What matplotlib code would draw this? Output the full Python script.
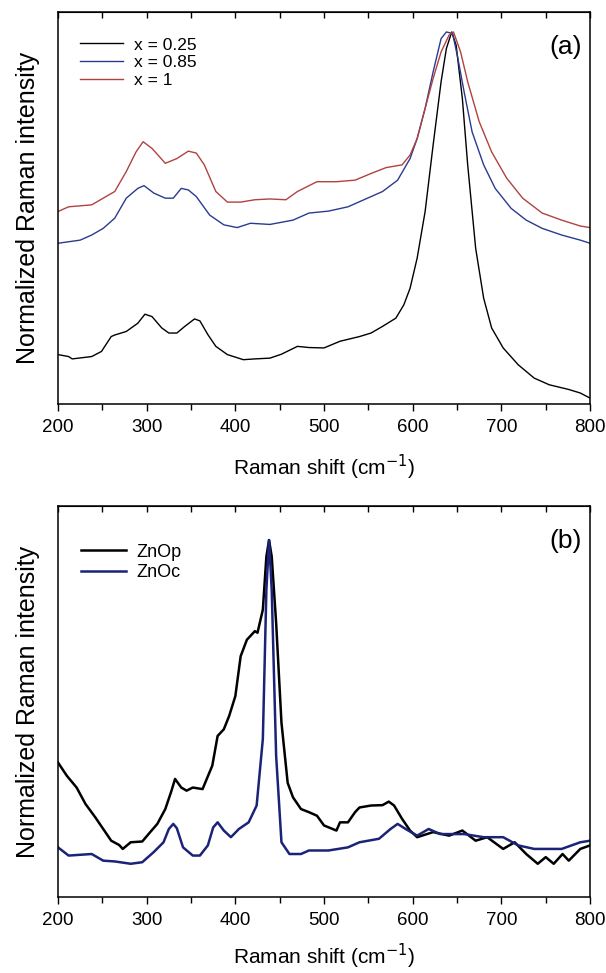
import numpy as np
import matplotlib
matplotlib.use("Agg")
import matplotlib.pyplot as plt
from matplotlib.ticker import MultipleLocator

plt.rcParams['font.family'] = ['Liberation Sans', 'DejaVu Sans']

# ---- panel (a): normalized Raman spectra ----
shift_a025 = [200, 212, 216, 238, 249, 260, 264, 277, 290, 298, 306, 317, 325, 334, 343, 354,
              360, 369, 378, 391, 409, 422, 439, 452, 470, 483, 500, 518, 540, 553, 566, 581,
              590, 597, 605, 614, 623, 632, 638, 644, 649, 656, 662, 671, 680, 689, 702, 719,
              737, 754, 776, 789, 800]
int_a025 = [0.126, 0.121, 0.115, 0.121, 0.134, 0.172, 0.176, 0.185, 0.206, 0.229, 0.223, 0.194,
            0.181, 0.181, 0.198, 0.217, 0.212, 0.177, 0.147, 0.126, 0.113, 0.115, 0.117, 0.127,
            0.147, 0.144, 0.143, 0.160, 0.172, 0.181, 0.198, 0.219, 0.253, 0.295, 0.372, 0.491,
            0.660, 0.822, 0.907, 0.949, 0.915, 0.779, 0.610, 0.397, 0.270, 0.194, 0.143, 0.100,
            0.066, 0.049, 0.037, 0.028, 0.015]

shift_a085 = [200, 225, 238, 251, 264, 277, 290, 297, 308, 321, 330, 339, 347, 356, 371, 387,
              402, 417, 439, 465, 483, 505, 527, 549, 566, 583, 597, 605, 614, 623, 632, 638,
              645, 651, 658, 667, 680, 693, 711, 728, 746, 768, 789, 800]
int_a085 = [0.410, 0.418, 0.431, 0.448, 0.474, 0.525, 0.550, 0.557, 0.538, 0.525, 0.525, 0.550,
            0.546, 0.529, 0.482, 0.457, 0.450, 0.461, 0.458, 0.469, 0.487, 0.492, 0.503, 0.525,
            0.542, 0.571, 0.626, 0.677, 0.754, 0.847, 0.932, 0.949, 0.945, 0.881, 0.796, 0.694,
            0.610, 0.550, 0.499, 0.469, 0.448, 0.431, 0.418, 0.410]

shift_a1 = [200, 212, 238, 251, 264, 277, 288, 296, 306, 321, 334, 347, 356, 365, 378, 391,
            406, 422, 439, 457, 470, 492, 514, 535, 553, 570, 588, 597, 605, 614, 623, 632,
            641, 646, 654, 662, 675, 689, 706, 724, 746, 768, 789, 800]
int_a1 = [0.491, 0.503, 0.508, 0.525, 0.542, 0.593, 0.643, 0.669, 0.652, 0.614, 0.626, 0.645,
          0.640, 0.610, 0.542, 0.515, 0.515, 0.521, 0.523, 0.521, 0.542, 0.567, 0.567, 0.571,
          0.588, 0.603, 0.610, 0.635, 0.677, 0.754, 0.830, 0.898, 0.941, 0.949, 0.898, 0.822,
          0.720, 0.643, 0.576, 0.525, 0.487, 0.469, 0.454, 0.450]

labels_a = ['x = 0.25', 'x = 0.85', 'x = 1']

# ---- panel (b) ----
shift_znop = [200, 210, 221, 231, 242, 251, 260, 269, 273, 282, 295, 304, 312, 321, 328, 332,
              339, 345, 352, 363, 374, 380, 387, 393, 400, 406, 413, 422, 425, 431, 435, 438,
              441, 446, 452, 459, 465, 474, 483, 492, 500, 514, 518, 527, 535, 540, 553, 566,
              573, 579, 588, 597, 605, 623, 641, 656, 671, 684, 702, 715, 728, 741, 750, 759,
              769, 776, 789, 800]
int_znop = [0.344, 0.310, 0.280, 0.238, 0.204, 0.174, 0.144, 0.133, 0.123, 0.140, 0.142, 0.166,
            0.187, 0.225, 0.272, 0.302, 0.280, 0.272, 0.280, 0.276, 0.336, 0.412, 0.429, 0.463,
            0.514, 0.616, 0.658, 0.680, 0.676, 0.735, 0.871, 0.913, 0.871, 0.701, 0.446, 0.292,
            0.255, 0.225, 0.217, 0.208, 0.183, 0.170, 0.191, 0.191, 0.217, 0.229, 0.234, 0.235,
            0.244, 0.234, 0.200, 0.170, 0.153, 0.166, 0.157, 0.170, 0.144, 0.153, 0.123, 0.140,
            0.110, 0.085, 0.102, 0.085, 0.110, 0.093, 0.123, 0.132]

shift_znoc = [200, 212, 238, 251, 264, 282, 295, 308, 319, 325, 330, 334, 341, 352, 360, 369,
              375, 380, 387, 395, 404, 415, 424, 431, 435, 438, 441, 446, 452, 461, 474, 483,
              505, 527, 540, 562, 575, 583, 592, 605, 618, 631, 658, 680, 702, 719, 737, 768,
              789, 800]
int_znoc = [0.127, 0.106, 0.110, 0.093, 0.091, 0.085, 0.089, 0.115, 0.140, 0.174, 0.187, 0.176,
            0.127, 0.106, 0.106, 0.132, 0.178, 0.191, 0.170, 0.153, 0.174, 0.191, 0.234, 0.404,
            0.786, 0.913, 0.786, 0.361, 0.140, 0.110, 0.110, 0.119, 0.119, 0.127, 0.140, 0.149,
            0.174, 0.187, 0.174, 0.157, 0.174, 0.161, 0.161, 0.153, 0.153, 0.132, 0.123, 0.123,
            0.140, 0.144]

labels_b = ['ZnOp', 'ZnOc']

fig = plt.figure(figsize=(6.06, 9.73), dpi=100)
ax_a = fig.add_axes([0.0957, 0.5848, 0.878, 0.4029])
ax_b = fig.add_axes([0.0957, 0.0781, 0.878, 0.4018])


def style_axis(ax, tag, xpad):
    ax.set_xlim(200, 800)
    ax.set_ylim(0, 1)
    ax.xaxis.set_major_locator(MultipleLocator(100))
    ax.xaxis.set_minor_locator(MultipleLocator(50))
    ax.tick_params(axis='x', which='both', direction='out', labelsize=13.5, top=False, pad=6)
    ax.tick_params(axis='x', which='major', length=5, width=1)
    ax.tick_params(axis='x', which='minor', length=4, width=1)
    ax.set_yticks([])
    top = ax.secondary_xaxis('top')
    top.xaxis.set_major_locator(MultipleLocator(100))
    top.xaxis.set_minor_locator(MultipleLocator(50))
    top.tick_params(axis='x', which='both', direction='in', labeltop=False, length=4, width=1)
    for s in ax.spines.values():
        s.set_linewidth(1.1)
    ax.set_xlabel('Raman shift (cm$^{-1}$)', fontsize=15, labelpad=xpad)
    ax.set_ylabel('Normalized Raman intensity', fontsize=18, labelpad=13)
    ax.text(0.985, 0.91, tag, transform=ax.transAxes, fontsize=19, ha='right', va='center')


ax_a.plot(shift_a025, int_a025, color='black', lw=1.0, label=labels_a[0])
ax_a.plot(shift_a085, int_a085, color='#2b3a8f', lw=1.0, label=labels_a[1])
ax_a.plot(shift_a1, int_a1, color='#b0423f', lw=1.0, label=labels_a[2])
style_axis(ax_a, '(a)', 12)
ax_a.legend(loc='upper left', bbox_to_anchor=(0.012, 0.975), frameon=False, fontsize=12.5,
            handlelength=2.5, handletextpad=0.6, labelspacing=0.15)

ax_b.plot(shift_znop, int_znop, color='black', lw=1.8, label=labels_b[0])
ax_b.plot(shift_znoc, int_znoc, color='#1b2378', lw=1.8, label=labels_b[1])
style_axis(ax_b, '(b)', 9)
ax_b.legend(loc='upper left', bbox_to_anchor=(0.012, 0.945), frameon=False, fontsize=13,
            handlelength=2.5, handletextpad=0.6, labelspacing=0.2)

fig.savefig('out.png', dpi=100)
